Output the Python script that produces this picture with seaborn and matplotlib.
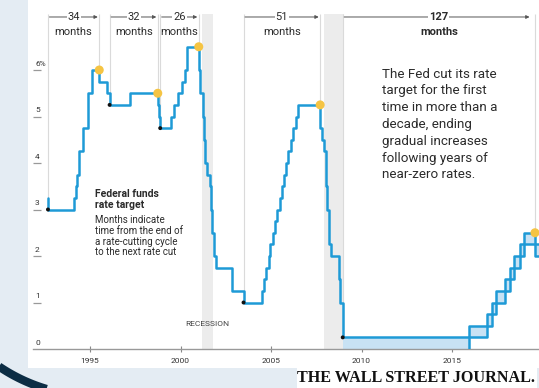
import numpy as np
import pandas as pd
import matplotlib
matplotlib.use("Agg")
import matplotlib.pyplot as plt
import seaborn as sns
from matplotlib.patches import Rectangle

# ---------------- data ----------------
target_dates = ["1992-09-04", "1992-09-04", "1994-02-04", "1994-03-22", "1994-04-18",
                "1994-05-17", "1994-08-16", "1994-11-15", "1995-02-01", "1995-07-06",
                "1995-12-19", "1996-01-31", "1997-03-25", "1998-09-29", "1998-10-15",
                "1998-11-17", "1999-06-30", "1999-08-24", "1999-11-16", "2000-02-02",
                "2000-03-21", "2000-05-16", "2001-01-03", "2001-01-31", "2001-03-20",
                "2001-04-18", "2001-05-15", "2001-06-27", "2001-08-21", "2001-09-17",
                "2001-10-02", "2001-11-06", "2001-12-11", "2002-11-06", "2003-06-25",
                "2004-06-30", "2004-08-10", "2004-09-21", "2004-11-10", "2004-12-14",
                "2005-02-02", "2005-03-22", "2005-05-03", "2005-06-30", "2005-08-09",
                "2005-09-20", "2005-11-01", "2005-12-13", "2006-01-31", "2006-03-28",
                "2006-05-10", "2006-06-29", "2007-09-18", "2007-10-31", "2007-12-11",
                "2008-01-22", "2008-01-30", "2008-03-18", "2008-04-30", "2008-10-08",
                "2008-10-29"]
target_vals = [3.25, 3.00, 3.25, 3.50, 3.75,
               4.25, 4.75, 5.50, 6.00, 5.75,
               5.50, 5.25, 5.50, 5.25, 5.00,
               4.75, 5.00, 5.25, 5.50, 5.75,
               6.00, 6.50, 6.00, 5.50, 5.00,
               4.50, 4.00, 3.75, 3.50, 3.00,
               2.50, 2.00, 1.75, 1.25, 1.00,
               1.25, 1.50, 1.75, 2.00, 2.25,
               2.50, 2.75, 3.00, 3.25, 3.50,
               3.75, 4.00, 4.25, 4.50, 4.75,
               5.00, 5.25, 4.75, 4.50, 4.25,
               3.50, 3.00, 2.25, 2.00, 1.50,
               1.00]

range_dates = ["2008-12-16", "2015-12-16", "2016-12-14", "2017-03-15", "2017-06-14",
               "2017-12-13", "2018-03-21", "2018-06-13", "2018-09-26", "2018-12-19",
               "2019-07-31", "2019-10-20"]
range_low = [0.00, 0.25, 0.50, 0.75, 1.00, 1.25, 1.50, 1.75, 2.00, 2.25, 2.00, 2.00]
range_high = [0.25, 0.50, 0.75, 1.00, 1.25, 1.50, 1.75, 2.00, 2.25, 2.50, 2.25, 2.25]

peak_dates = ["1995-07-06", "1998-09-29", "2001-01-03", "2007-09-18", "2019-07-31"]
peak_vals = [6.00, 5.50, 6.50, 5.25, 2.50]
trough_dates = ["1992-09-04", "1996-01-31", "1998-11-17", "2003-06-25", "2008-12-16"]
trough_vals = [3.00, 5.25, 4.75, 1.00, 0.25]
cycle_months = ["34", "32", "26", "51", "127"]

recessions = [(2001.17, 2001.78), (2007.92, 2009.05)]

year_ticks = [1995, 2000, 2005, 2010, 2015]
ytick_vals = [0, 1, 2, 3, 4, 5, 6]
ytick_text = ["0", "1", "2", "3", "4", "5", "6%"]


def dec(dates):
    d = pd.to_datetime(pd.Series(dates))
    return (d.dt.year + (d.dt.dayofyear - 1) / 365.25).to_numpy()


# ---------------- style ----------------
sns.set_theme(style="white")
plt.rcParams['font.family'] = ['Roboto', 'DejaVu Sans']

BLUE = '#1e9ad6'
FILL = '#c8e2f4'
YELLOW = '#f5c443'
TXT = '#2b2b2b'

W, H = 539, 388
fig = plt.figure(figsize=(W / 100, H / 100), dpi=100)
fig.patch.set_facecolor('#e4ecf3')

bg = fig.add_axes([0, 0, 1, 1])
bg.set_xlim(0, W)
bg.set_ylim(H, 0)
bg.axis('off')
bg.add_patch(Rectangle((28, 0), W - 28, 368, color='white', lw=0))
bg.add_patch(Rectangle((297, 368), 240, 20, color='white', lw=0))
th = np.radians(np.linspace(96, 140, 80))
bg.plot(95 + 171 * np.cos(th), 225 + 171 * np.sin(th), color='#0c2d44', lw=6,
        solid_capstyle='butt')
bg.text(416, 378.5, "THE WALL STREET JOURNAL.", family=['Liberation Serif', 'DejaVu Serif'],
        weight='bold', fontsize=11.6, ha='center', va='center', color='#111111')

ytop = 349 / 46.5
ax = fig.add_axes([33 / W, 39 / H, (W - 33) / W, 349 / H])
ax.patch.set_alpha(0)
ax.set_xlim(1991.85, 2019.8)
ax.set_ylim(0, ytop)

for a, b in recessions:
    ax.axvspan(a, b, ymin=0, ymax=7.2 / ytop, color='#ececec', lw=0, zorder=0)

px = dec(peak_dates)
tx = dec(trough_dates)
ax.vlines(np.concatenate([px, tx]), np.concatenate([peak_vals, trough_vals]), 7.2,
          color='#dadada', lw=0.8, zorder=1)

rx = dec(range_dates)
ax.fill_between(rx, range_low, range_high, step='post', color=FILL, lw=0, zorder=2)

upper_x = np.concatenate([dec(target_dates), rx])
upper_y = np.concatenate([target_vals, range_high])
sns.lineplot(x=upper_x, y=upper_y, ax=ax, estimator=None, sort=False,
             drawstyle='steps-post', color=BLUE, lw=1.8, zorder=3)
low_x = np.concatenate([rx[1:2], rx[1:]])
low_y = np.concatenate([[range_low[0]], range_low[1:]])
sns.lineplot(x=low_x, y=low_y, ax=ax, estimator=None, sort=False,
             drawstyle='steps-post', color=BLUE, lw=1.8, zorder=3)

sns.scatterplot(x=px, y=peak_vals, ax=ax, color=YELLOW, s=42, edgecolor='none', zorder=5)
sns.scatterplot(x=tx, y=trough_vals, ax=ax, color='#111111', s=8, edgecolor='none', zorder=5)

# cycle length annotations
for i, (x0, x1, m) in enumerate(zip(tx, px, cycle_months)):
    end = x1 - (0.3 if i == 4 else 0.08)
    ax.annotate('', xy=(end, 7.14), xytext=(x0 + 0.08, 7.14),
                arrowprops=dict(arrowstyle='-|>', lw=0.7, color='#555555',
                                mutation_scale=5, shrinkA=0, shrinkB=0))
    xm = (x0 + x1) / 2
    bold = 'bold' if i == 4 else 'normal'
    ax.text(xm, 7.14, m, ha='center', va='center', fontsize=8, color=TXT, weight=bold,
            bbox=dict(facecolor='white', edgecolor='none', pad=0.6))
    ax.text(xm, 6.82, 'months', ha='center', va='center', fontsize=8, color=TXT,
            weight=bold)

ax.text(2011.13, 6.05, "The Fed cut its rate\ntarget for the first\ntime in more than a\n"
        "decade, ending\ngradual increases\nfollowing years of\nnear-zero rates.",
        ha='left', va='top', fontsize=9.6, color=TXT, linespacing=1.38)
ax.text(1995.28, 3.44, "Federal funds\nrate target", ha='left', va='top', fontsize=7.5,
        weight='bold', color=TXT, linespacing=1.1)
ax.text(1995.28, 2.88, "Months indicate\ntime from the end of\na rate-cutting cycle\n"
        "to the next rate cut", ha='left', va='top', fontsize=7, color=TXT, linespacing=1.1)
ax.text(2001.5, 0.54, "RECESSION", ha='center', va='center', fontsize=6, color='#444444')

# axes styling
for s in ['left', 'top', 'right']:
    ax.spines[s].set_visible(False)
ax.spines['bottom'].set_color('#999999')
ax.spines['bottom'].set_linewidth(1.0)
ax.set_xticks(year_ticks)
ax.set_xticklabels([str(y) for y in year_ticks])
ax.tick_params(axis='x', bottom=True, direction='inout', length=5, width=0.8,
               color='#888888', labelsize=6, labelcolor='#333333', pad=4)
ax.set_yticks(ytick_vals[1:])
ax.set_yticklabels([])
ax.tick_params(axis='y', left=True, direction='in', length=6, width=0.9, color='#999999')
for v, lab in zip(ytick_vals, ytick_text):
    ax.text(0.004, v + 0.07, lab, transform=ax.get_yaxis_transform(), ha='left',
            va='bottom', fontsize=6, color='#333333')
ax.set_xlabel('')
ax.set_ylabel('')
ax.grid(False)

fig.savefig('out.png', dpi=100, facecolor=fig.get_facecolor())
